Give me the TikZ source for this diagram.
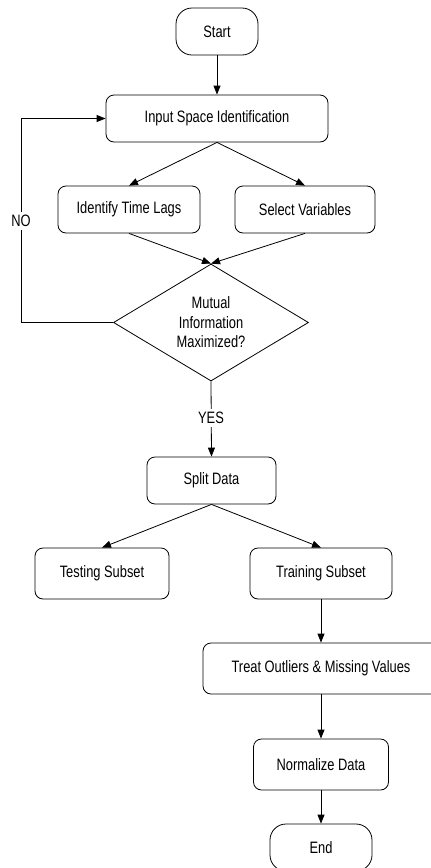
\documentclass[tikz,border=0pt]{standalone}
\usepackage{fontspec}
\setmainfont[FakeStretch=0.78]{Liberation Sans}
\usepackage{tikz}
\usetikzlibrary{arrows, arrows.meta, shapes.geometric}

\begin{document}
\begin{tikzpicture}[x=1pt, y=-1pt, line width=0.8pt, >={Triangle[length=9pt, width=7pt]},
  font=\fontsize{16.5}{19.5}\selectfont]
\tikzstyle{process}=[rectangle, draw, rounded corners=8pt, minimum height=47pt, inner sep=0pt]
\tikzstyle{terminal}=[rectangle, draw, rounded corners=16pt, minimum height=47pt, inner sep=0pt]
\tikzstyle{decision}=[diamond, draw, aspect=1.667, minimum width=195pt, minimum height=117pt, inner sep=0pt, align=center]
\tikzstyle{answer}=[fill=white, inner sep=3pt]

\useasboundingbox (0,0) rectangle (431,868);

\node[terminal, minimum width=82pt] (start) at (217,31.5) {Start};
\node[process, minimum width=222pt] (input) at (217,118.5) {Input Space Identification};
\node[process, minimum width=142pt] (lags) at (129,209.5) {Identify Time Lags};
\node[process, minimum width=140pt] (vars) at (305,209.5) {Select Variables};
\node[decision] (mi) at (211,322.5) {Mutual\\Information\\Maximized?};
\node[process, minimum width=129pt] (split) at (211.5,480.5) {Split Data};
\node[process, minimum width=134pt, minimum height=51pt] (test) at (102,573.5) {Testing Subset};
\node[process, minimum width=142pt, minimum height=51pt] (train) at (321,573.5) {Training Subset};
\node[process, minimum width=236pt, minimum height=51pt] (treat) at (321,668.5) {Treat Outliers \& Missing Values};
\node[process, minimum width=135pt, minimum height=51pt] (norm) at (321,764.5) {Normalize Data};
\node[terminal, minimum width=102pt] (end) at (321,847.5) {End};

\coordinate (noturn) at (21,118.5);

\path[->]
(start) edge (input)
(input.south) edge (lags.north)
              edge (vars.north)
(lags.south) edge (mi.north)
(vars.south) edge (mi.north)
(mi.south) edge (split.north)
(split.south) edge (test.north)
              edge (train.north)
(train) edge (treat)
(treat) edge (norm)
(norm) edge (end);

\draw[->] (mi.west) -| (noturn) -- (input.west);

\node[answer] (no) at (21,221) {NO};
\node[answer] (yes) at (211,418) {YES};

\end{tikzpicture}
\end{document}
